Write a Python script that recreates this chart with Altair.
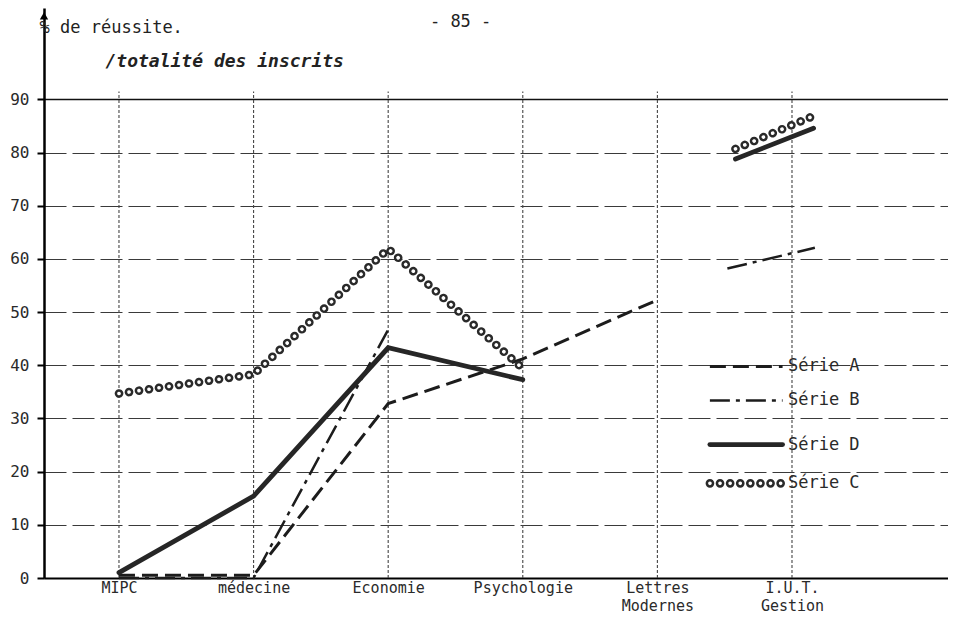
import json
import altair as alt
import pandas as pd

# ---------------- data ----------------
categories = ["MIPC", "médecine", "Economie", "Psychologie", "Lettres Modernes", "I.U.T. Gestion"]
category_lines = [["MIPC"], ["médecine"], ["Economie"], ["Psychologie"],
                  ["Lettres", "Modernes"], ["I.U.T.", "Gestion"]]
cat_pos = [0, 1, 2, 3, 4, 5]

# main curves (None = no value at that column)
serie_A = [0.5, 0.5, 32.8, 41.2, 52.3, None]
serie_B = [0.0, 0.0, 46.7, None, None, None]
serie_D = [1.0, 15.4, 43.3, 37.3, None, None]
serie_C = [34.7, 38.3, 61.9, 39.4, None, None]

# short segments drawn across the I.U.T. Gestion column (x in column units)
iut_B_x = [4.52, 5.17]
iut_B_y = [58.2, 62.1]
iut_D_x = [4.58, 5.16]
iut_D_y = [78.8, 84.6]
iut_C_x = [4.58, 5.16]
iut_C_y = [80.7, 86.9]

y_ticks = [0, 10, 20, 30, 40, 50, 60, 70, 80, 90]

legend_keys = ["A", "B", "D", "C"]
legend_names = ["Série A", "Série B", "Série D", "Série C"]
legend_y = [39.8, 33.4, 25.1, 17.8]
legend_x = [4.39, 4.93]
legend_text_x = 4.97

annot_normal = ["% de réussite.", "- 85 -"]
annot_normal_x = [-0.59, 2.31]
annot_normal_y = [103.4, 104.6]
annot_italic = ["/totalité des inscrits"]
annot_italic_x = [-0.10]
annot_italic_y = [97.0]

X0, X1 = -0.557, 6.159
Y0, Y1 = 0, 107.2
FONT = "DejaVu Sans Mono"
INK = "#1c1c1c"

# ---------------- tables ----------------
rows = []
for key, vals in [("A", serie_A), ("B", serie_B), ("D", serie_D), ("C", serie_C)]:
    for p, v in zip(cat_pos, vals):
        if v is not None:
            rows.append({"series": key, "seg": "main", "x": p, "y": v})
for key, xs, ys in [("B", iut_B_x, iut_B_y), ("D", iut_D_x, iut_D_y), ("C", iut_C_x, iut_C_y)]:
    for xv, yv in zip(xs, ys):
        rows.append({"series": key, "seg": "iut", "x": xv, "y": yv})
for key, ly in zip(legend_keys, legend_y):
    for xv in legend_x:
        rows.append({"series": key, "seg": "legend", "x": xv, "y": ly})
lines_df = pd.DataFrame(rows)

legend_df = pd.DataFrame({"name": legend_names, "y": legend_y,
                          "x": [legend_text_x] * len(legend_names)})
vgrid_df = pd.DataFrame({"x": cat_pos, "y": [0] * len(cat_pos), "y2": [91.5] * len(cat_pos)})
normal_df = pd.DataFrame({"t": annot_normal, "x": annot_normal_x, "y": annot_normal_y})
italic_df = pd.DataFrame({"t": annot_italic, "x": annot_italic_x, "y": annot_italic_y})
arrow_df = pd.DataFrame({"x": [X0], "y": [105.7]})

xscale = alt.Scale(domain=[X0, X1], nice=False, zero=False)
yscale = alt.Scale(domain=[Y0, Y1], nice=False, zero=False)

label_expr = json.dumps(category_lines, ensure_ascii=False) + "[datum.value]"

x_axis = alt.Axis(values=cat_pos, labelExpr=label_expr, title=None, grid=False, ticks=False,
                  domain=True, domainColor="black", domainWidth=2.2,
                  labelFont=FONT, labelFontSize=15, labelColor="#2a2a2a",
                  labelPadding=2, labelLineHeight=18, labelBaseline="top",
                  labelAngle=0, labelFlush=False, labelOverlap=False)
y_axis = alt.Axis(values=y_ticks, title=None, grid=True,
                  gridColor={"condition": {"test": "datum.value === 90", "value": "#111"}, "value": "#3a3a3a"},
                  gridDash={"condition": {"test": "datum.value === 90", "value": []}, "value": [22, 6]},
                  gridWidth={"condition": {"test": "datum.value === 90", "value": 1.6}, "value": 1},
                  domain=True, domainColor="black", domainWidth=2.5,
                  ticks=True, tickSize=7, tickWidth=2, tickColor="black",
                  labelFont=FONT, labelFontSize=16, labelColor="#2a2a2a", labelPadding=8)


def X(field="x:Q"):
    return alt.X(field, scale=xscale, axis=x_axis)


def Y(field="y:Q"):
    return alt.Y(field, scale=yscale, axis=y_axis)


vgrid = alt.Chart(vgrid_df).mark_rule(color="#454545", strokeWidth=1.1, strokeDash=[3, 2]).encode(
    x=X(), y=Y(), y2="y2:Q",
)

base = alt.Chart(lines_df)


def series_line(key, **kw):
    return base.transform_filter(alt.datum.series == key).mark_line(**kw).encode(
        x=X(), y=Y(), detail="seg:N", order="x:Q",
    )


line_A = series_line("A", color=INK, strokeWidth=3, strokeDash=[16, 7])
line_B = series_line("B", color=INK, strokeWidth=2.5, strokeDash=[20, 6, 4, 6])
line_D = series_line("D", color="#262626", strokeWidth=4.8, strokeCap="round")
line_C_outer = series_line("C", color="#2a2a2a", strokeWidth=8.6, strokeDash=[0.1, 10], strokeCap="round")
line_C_inner = series_line("C", color="white", strokeWidth=3.6, strokeDash=[0.1, 10], strokeCap="round")

legend_text = alt.Chart(legend_df).mark_text(align="left", baseline="middle", font=FONT,
                                             fontSize=17, color="#2a2a2a").encode(
    x=X(), y=Y(), text="name:N",
)

normal_text = alt.Chart(normal_df).mark_text(align="left", baseline="middle", font=FONT,
                                             fontSize=17, color="#222").encode(
    x=X(), y=Y(), text="t:N",
)
italic_text = alt.Chart(italic_df).mark_text(align="left", baseline="middle", font=FONT,
                                             fontSize=18, fontStyle="italic", fontWeight="bold",
                                             color="#222").encode(
    x=X(), y=Y(), text="t:N",
)

arrow = alt.Chart(arrow_df).mark_point(shape="triangle-up", filled=True, color="black",
                                       size=70, opacity=1).encode(
    x=X(), y=Y(),
)

chart = alt.layer(
    vgrid, line_A, line_B, line_D, line_C_outer, line_C_inner,
    legend_text, normal_text, italic_text, arrow,
).properties(
    width=904, height=570,
    autosize="none",
    padding={"left": 36, "top": 0, "right": 0, "bottom": 36},
    background="white",
).configure_view(stroke=None)

chart.save("out.html", embed_options={"renderer": "svg", "actions": False})
